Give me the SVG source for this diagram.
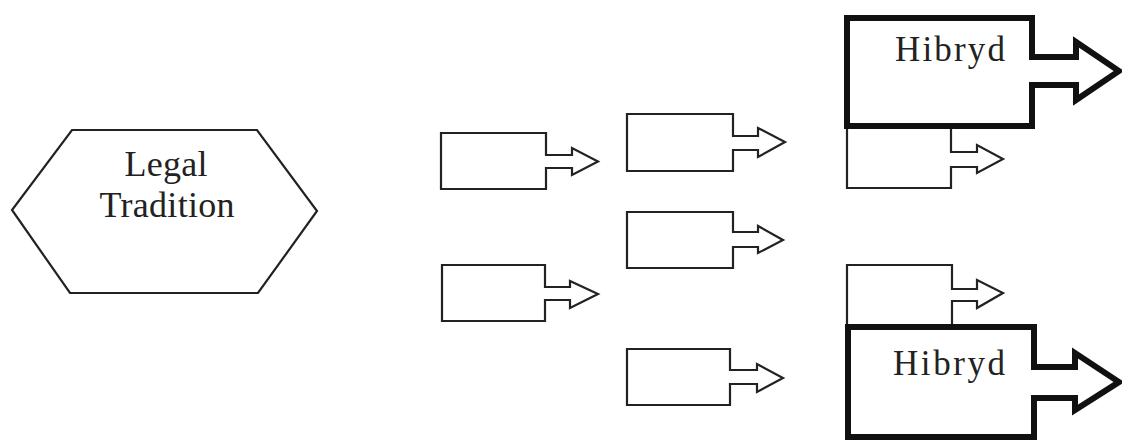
<svg xmlns="http://www.w3.org/2000/svg" width="1122" height="440" viewBox="0 0 1122 440">
<style>
.thin{fill:#fff;stroke:#222;stroke-width:2.2;stroke-linejoin:miter}
.thick{fill:#fff;stroke:#111;stroke-width:6;stroke-linejoin:miter}
.lbl{font-family:"Liberation Serif","Times New Roman",serif;fill:#222;text-anchor:middle}
</style>
<rect width="1122" height="440" fill="#fff"/>
<g id="legal-tradition">
<polygon class="thin" points="72,130 257,130 317,211 258,293 70,293 12,210"/>
<text class="lbl" x="166" y="176" font-size="36" textLength="83" lengthAdjust="spacing">Legal</text>
<text class="lbl" x="167" y="217" font-size="36" textLength="135" lengthAdjust="spacing">Tradition</text>
</g>
<g id="box-a"><path class="thin" d="M441,133 H546 V155 H572 V148 L598,161.5 L572,175 V168 H546 V189 H441 Z"/></g>
<g id="box-d"><path class="thin" d="M442,265 H545 V287 H570 V281 L598,294 L570,308 V300 H545 V321 H442 Z"/></g>
<g id="box-b"><path class="thin" d="M627,114 H733 V136 H758 V128 L785,142 L758,157 V150 H733 V171 H627 Z"/></g>
<g id="box-c"><path class="thin" d="M627,212 H733 V232 H758 V226 L783,240 L758,253 V247 H733 V268 H627 Z"/></g>
<g id="box-e"><path class="thin" d="M627,349 H730 V370 H757 V364 L783,378 L757,392 V384 H730 V405 H627 Z"/></g>
<g id="box-f"><path class="thin" d="M847,126 H951 V152 H977 V145 L1003,159 L977,173 V167 H951 V188 H847 Z"/></g>
<g id="box-g"><path class="thin" d="M847,265 H952 V289 H977 V280 L1003,293 L977,308 V301 H952 V327 H847 Z"/></g>
<g id="hibryd-top">
<path class="thick" d="M847,18 H1032 V57 H1076 V42 L1119,71 L1076,100 V85 H1032 V126 H847 Z"/>
<text class="lbl" x="950" y="61" font-size="35" textLength="110" lengthAdjust="spacing">Hibryd</text>
</g>
<g id="hibryd-bottom">
<path class="thick" d="M848,327 H1034 V367 H1075 V353 L1119,382 L1075,410 V398 H1034 V437 H848 Z"/>
<text class="lbl" x="949" y="375" font-size="35" textLength="112" lengthAdjust="spacing">Hibryd</text>
</g>
<g id="connectors"/>
</svg>
